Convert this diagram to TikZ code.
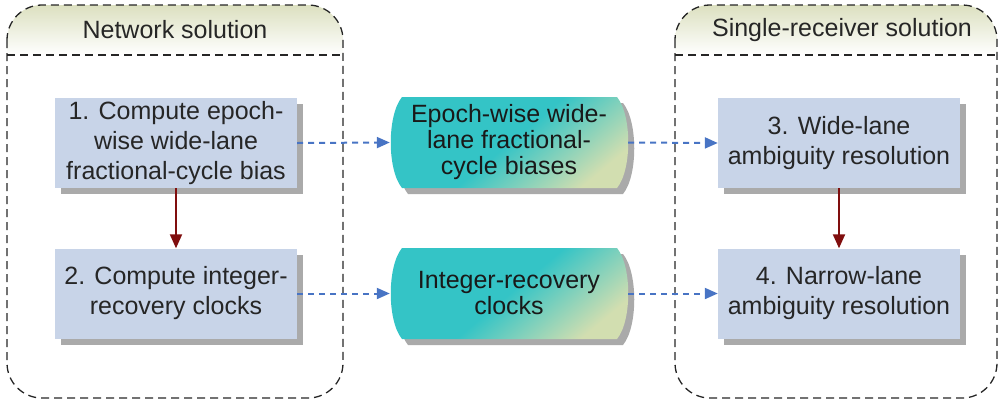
\documentclass[tikz,border=0pt]{standalone}
\usepackage{fontspec}
\setmainfont{Liberation Sans}
\usetikzlibrary{arrows.meta,shadows}
\definecolor{boxfill}{RGB}{200,212,232}
\definecolor{shadowgray}{RGB}{170,170,170}
\definecolor{tealA}{RGB}{52,196,198}
\definecolor{tealB}{RGB}{210,222,176}
\definecolor{headA}{RGB}{220,224,192}
\definecolor{blueArrow}{RGB}{72,116,196}
\definecolor{redArrow}{RGB}{128,14,14}
\begin{document}
\begin{tikzpicture}[x=1pt,y=-1pt,
  procbox/.style={rectangle, fill=boxfill, minimum width=242pt, minimum height=90pt,
    inner sep=0pt, align=center, font=\fontsize{25}{30}\selectfont, text=black!85,
    drop shadow={shadow xshift=6pt, shadow yshift=-6pt, fill=shadowgray, opacity=1}},
  datalabel/.style={rectangle, minimum width=238pt, minimum height=91pt, inner sep=0pt,
    align=center, font=\fontsize{25}{26}\selectfont, text=black!90},
  container/.style={draw=black!85, line width=1.3pt, dash pattern=on 8pt off 5pt, rounded corners=35pt},
  sepline/.style={draw=black!85, line width=1.3pt, dash pattern=on 8pt off 5pt},
  headtext/.style={font=\fontsize{25}{30}\selectfont, text=black!85, inner sep=0pt},
  flowarrow/.style={draw=blueArrow, line width=2pt, dash pattern=on 6pt off 5pt,
    -{Triangle[length=13pt,width=11pt]}},
  steparrow/.style={draw=redArrow, line width=2pt, -{Triangle[length=14pt,width=12pt]}},
  tealshape/.style={top color=tealA, bottom color=tealB, middle color=tealA, shading angle=40}
]
\useasboundingbox (0,0) rectangle (1001,405);

% containers: header shading
\begin{scope}
  \clip[rounded corners=35pt] (7,5) rectangle (343,398);
  \shade[top color=headA, bottom color=white] (7,5) rectangle (343,55);
\end{scope}
\begin{scope}
  \clip[rounded corners=35pt] (675,5) rectangle (997,398);
  \shade[top color=headA, bottom color=white] (675,5) rectangle (997,55);
\end{scope}
\draw[container] (7,5) rectangle (343,398);
\draw[sepline] (7,55) -- (343,55);
\draw[container] (675,5) rectangle (997,398);
\draw[sepline] (675,55) -- (997,55);

\node[headtext] (hdr1) at (175,30) {Network solution};
\node[headtext] (hdr2) at (842,30) {Single-receiver solution};

% process boxes
\node[procbox] (b1) at (176,143) {1. Compute epoch-\\wise wide-lane\\fractional-cycle bias};
\node[procbox] (b2) at (176,293.5) {2. Compute integer-\\recovery clocks};
\node[procbox] (b3) at (839,143) {3. Wide-lane\\ambiguity resolution};
\node[procbox] (b4) at (839,293.5) {4. Narrow-lane\\ambiguity resolution};

% data shapes
\foreach \yt/\yb in {97/188, 248/339}{
  \fill[shadowgray, shift={(6,6)}] (402,\yt) -- (617,\yt)
     .. controls (632,{\yt+0.2*(\yb-\yt)}) and (632,{\yb-0.2*(\yb-\yt)}) .. (617,\yb)
     -- (402,\yb)
     .. controls (387,{\yb-0.2*(\yb-\yt)}) and (387,{\yt+0.2*(\yb-\yt)}) .. (402,\yt) -- cycle;
  \shade[tealshape] (402,\yt) -- (617,\yt)
     .. controls (632,{\yt+0.2*(\yb-\yt)}) and (632,{\yb-0.2*(\yb-\yt)}) .. (617,\yb)
     -- (402,\yb)
     .. controls (387,{\yb-0.2*(\yb-\yt)}) and (387,{\yt+0.2*(\yb-\yt)}) .. (402,\yt) -- cycle;
}
\node[datalabel] (c1) at (509,142.5) {Epoch-wise wide-\\lane fractional-\\cycle biases};
\node[datalabel] (c2) at (509,293.5) {Integer-recovery\\clocks};

% connectors
\draw[steparrow] (b1) -- (b2);
\draw[steparrow] (b3) -- (b4);
\draw[flowarrow] (b1.east) -- (c1.west);
\draw[flowarrow] (c1.east) -- (b3.west);
\draw[flowarrow] (b2.east) -- (c2.west);
\draw[flowarrow] (c2.east) -- (b4.west);
\end{tikzpicture}
\end{document}
